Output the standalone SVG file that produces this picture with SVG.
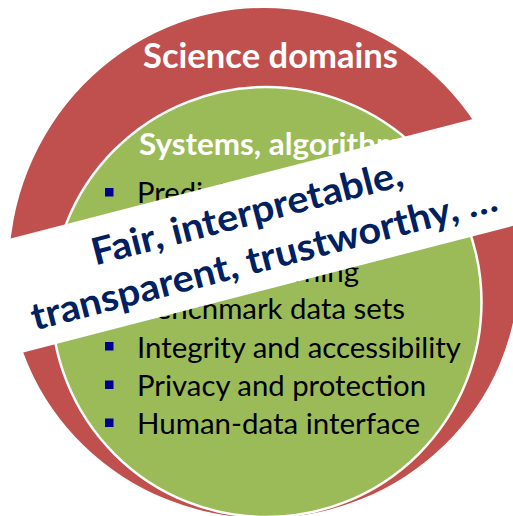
<svg xmlns="http://www.w3.org/2000/svg" width="513" height="516" viewBox="0 0 513 516">
  <style>
    .t { font-family: "Lato", "Open Sans", "Liberation Sans", sans-serif; }
    .head { font-weight: bold; fill: #FFFFFF; }
    .item { font-size: 29.5px; fill: #000000; }
    .bul { fill: #000090; }
    .ban { font-weight: bold; font-size: 37.5px; fill: #002060; }
  </style>
  <rect x="0" y="0" width="513" height="516" fill="#FFFFFF"/>
  <g id="science-domains">
    <path d="M 8.8 270 A 255 262 0 0 1 518.8 270 A 255 248 0 0 1 8.8 270 Z" fill="#C0504D"/>
    <text class="t head" x="143" y="68" font-size="34" textLength="255" lengthAdjust="spacingAndGlyphs">Science domains</text>
  </g>
  <g id="systems">
    <circle cx="266.5" cy="302" r="215" fill="#9BBB59" stroke="#FFFFFF" stroke-width="2.5"/>
    <text class="t head" x="139" y="154.5" font-size="29.5" textLength="277" lengthAdjust="spacingAndGlyphs">Systems, algorithms</text>
    <rect class="bul" x="105" y="188" width="8.5" height="8.5"/>
    <text class="t item" x="137" y="203" textLength="131" lengthAdjust="spacingAndGlyphs">Prediction</text>
    <rect class="bul" x="105" y="266" width="8.5" height="8.5"/>
    <text class="t item" x="137" y="281.5" textLength="222" lengthAdjust="spacingAndGlyphs">Machine learning</text>
    <rect class="bul" x="105" y="303.5" width="8.5" height="8.5"/>
    <text class="t item" x="137" y="319" textLength="268" lengthAdjust="spacingAndGlyphs">Benchmark data sets</text>
    <rect class="bul" x="105" y="342" width="8.5" height="8.5"/>
    <text class="t item" x="137" y="357.5" textLength="324" lengthAdjust="spacingAndGlyphs">Integrity and accessibility</text>
    <rect class="bul" x="105" y="380.5" width="8.5" height="8.5"/>
    <text class="t item" x="137" y="396" textLength="289" lengthAdjust="spacingAndGlyphs">Privacy and protection</text>
    <rect class="bul" x="105" y="418.5" width="8.5" height="8.5"/>
    <text class="t item" x="137" y="434" textLength="283" lengthAdjust="spacingAndGlyphs">Human-data interface</text>
  </g>
  <g id="banner" transform="translate(241 237.6) rotate(-14.5)">
    <rect x="-320" y="-56.75" width="660" height="113.5" fill="#FFFFFF"/>
    <text class="t ban" x="-148" y="-9.5" textLength="320" lengthAdjust="spacingAndGlyphs">Fair, interpretable,</text>
    <text class="t ban" x="-223" y="38.3" textLength="480" lengthAdjust="spacingAndGlyphs">transparent, trustworthy, …</text>
  </g>
</svg>
